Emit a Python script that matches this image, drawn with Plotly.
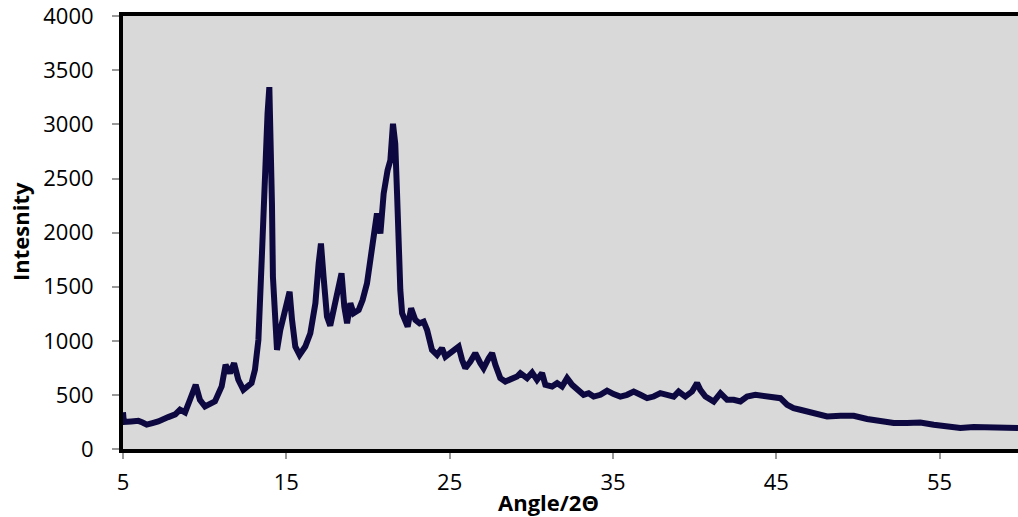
import plotly.graph_objects as go

two_theta = [5.0, 5.05, 5.5, 5.94, 6.2, 6.45, 6.8, 7.16, 7.77, 8.2, 8.49, 8.8, 9.1, 9.45, 9.71,
             10.02, 10.63, 11.04, 11.28, 11.55, 11.8, 12.06, 12.37, 12.87, 13.08, 13.29, 13.51,
             13.71, 13.85, 13.96, 14.06, 14.12, 14.18, 14.33, 14.43, 14.63, 14.83, 15.0, 15.2,
             15.35, 15.55, 15.81, 16.16, 16.47, 16.78, 16.98, 17.12, 17.28, 17.49, 17.69, 17.9,
             18.14, 18.38, 18.55, 18.72, 18.92, 19.12, 19.43, 19.67, 19.94, 20.14, 20.35, 20.55,
             20.76, 20.96, 21.2, 21.37, 21.53, 21.67, 21.78, 21.88, 21.98, 22.09, 22.29, 22.43,
             22.64, 22.9, 23.16, 23.41, 23.62, 23.76, 23.92, 24.23, 24.53, 24.74, 25.15, 25.55,
             25.76, 25.96, 26.27, 26.57, 26.88, 27.08, 27.39, 27.6, 27.8, 28.1, 28.41, 28.72,
             29.13, 29.33, 29.74, 30.05, 30.35, 30.66, 30.86, 31.27, 31.58, 31.88, 32.19, 32.5,
             32.8, 33.2, 33.51, 33.82, 34.23, 34.64, 35.04, 35.45, 35.86, 36.27, 36.68, 37.09,
             37.49, 37.9, 38.31, 38.72, 39.02, 39.43, 39.84, 40.15, 40.35, 40.66, 41.17, 41.58,
             41.99, 42.39, 42.8, 43.21, 43.72, 44.23, 44.74, 45.25, 45.66, 46.06, 46.47, 46.88,
             47.29, 47.7, 48.11, 48.93, 49.74, 50.56, 51.37, 52.19, 53.0, 53.82, 54.64, 55.46,
             56.27, 57.09, 57.91, 58.72, 59.54, 59.8]

intensity = [340, 250, 255, 260, 245, 225, 240, 255, 295, 320, 363, 338, 455, 593, 455,
             393, 440, 578, 778, 701, 793, 640, 547, 609, 732, 1008, 1811,
             2731, 3100, 3345, 2791, 2269, 1592, 1039, 916, 1100, 1223, 1347, 1454,
             1193, 947, 870, 947, 1070, 1347, 1716, 1900, 1592, 1223, 1140, 1285,
             1500, 1624, 1316, 1162, 1347, 1255, 1285, 1377, 1531, 1746, 1961, 2177,
             1993, 2362, 2577, 2669, 3007, 2823, 2362, 1839, 1470, 1255, 1193, 1131,
             1301, 1193, 1162, 1177, 1100, 978, 916, 870, 932, 854, 900, 947,
             824, 747, 808, 886, 793, 747, 839, 886, 778, 655, 624, 639,
             670, 701, 655, 707, 639, 701, 593, 578, 609, 578, 655, 593,
             547, 501, 516, 485, 501, 540, 508, 485, 501, 531, 501, 470,
             485, 516, 501, 485, 531, 485, 531, 609, 547, 485, 439, 516,
             455, 455, 439, 485, 501, 492, 485, 470, 409, 378, 363, 347,
             340, 316, 301, 307, 307, 277, 255, 240, 240, 245, 224, 215,
             194, 203, 203, 194, 203, 195]

x_ticks = [5, 15, 25, 35, 45, 55]
y_ticks = [0, 500, 1000, 1500, 2000, 2500, 3000, 3500, 4000]

FONT = "Open Sans"

L, R, T, B = 123, 0, 16, 68
W, H = 1018, 517

fig = go.Figure()
fig.add_trace(go.Scatter(
    x=two_theta, y=intensity, mode="lines",
    line=dict(color="#0d0940", width=6),
    showlegend=False, hoverinfo="skip",
))

fig.update_layout(
    width=W, height=H,
    margin=dict(l=L, r=R, t=T, b=B),
    paper_bgcolor="white",
    plot_bgcolor="#d9d9d9",
    font=dict(family=FONT, size=22, color="black"),
    xaxis=dict(
        range=[5, 59.8], tickvals=x_ticks, ticktext=[str(v) for v in x_ticks],
        showgrid=False, zeroline=False,
        showline=True, linecolor="black", linewidth=4, mirror=True,
        ticks="outside", ticklen=6, tickcolor="#999999", tickwidth=1.5,
        ticklabelstandoff=5,
        tickfont=dict(family=FONT, size=22, color="black"),
    ),
    yaxis=dict(
        range=[0, 4003], tickvals=y_ticks, ticktext=[str(v) for v in y_ticks],
        showgrid=False, zeroline=False,
        showline=True, linecolor="black", linewidth=4, mirror=False,
        ticks="outside", ticklen=7, tickcolor="#999999", tickwidth=1.5,
        ticklabelstandoff=14,
        tickfont=dict(family=FONT, size=22, color="black"),
    ),
)

pw = W - L - R
ph = H - T - B


def px_to_paper(px, py):
    return (px - L) / pw, (H - B - py) / ph


ax, ay = px_to_paper(548, 502)
bx, by = px_to_paper(20, 232)
fig.add_annotation(text="<b>Angle/2Θ</b>", x=ax, y=ay, xref="paper", yref="paper",
                   xanchor="center", yanchor="middle", showarrow=False,
                   font=dict(family=FONT, size=22, color="black"))
fig.add_annotation(text="<b>Intesnity</b>", x=bx, y=by, xref="paper", yref="paper",
                   xanchor="center", yanchor="middle", showarrow=False, textangle=-90,
                   font=dict(family=FONT, size=22, color="black"))

fig.write_html("out.html")
